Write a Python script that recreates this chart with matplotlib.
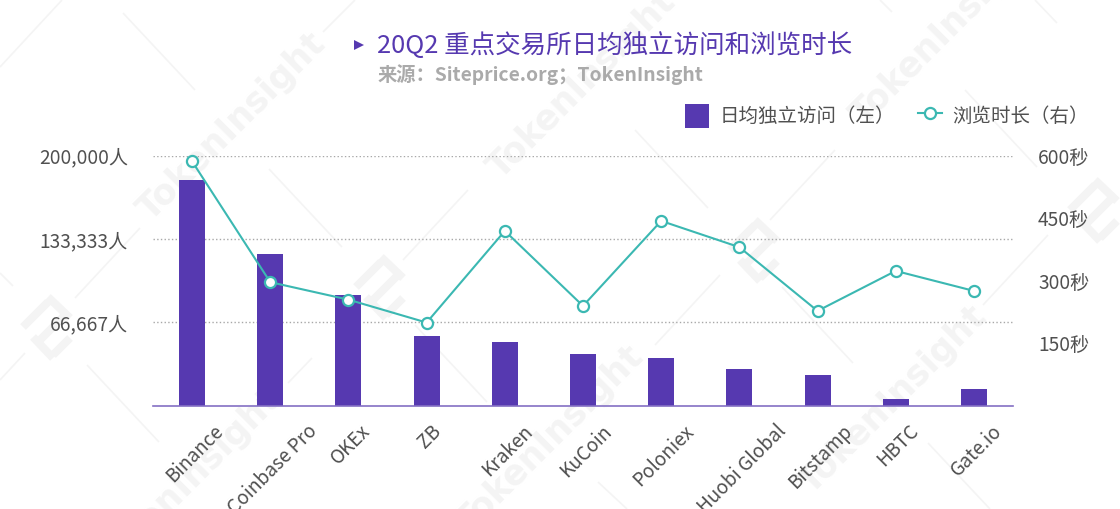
"""
20Q2 exchange traffic chart: daily unique visits (bars) and visit duration (line).
"""

import matplotlib

matplotlib.use("Agg")
import matplotlib.pyplot as plt
from matplotlib.lines import Line2D
from matplotlib.transforms import ScaledTranslation

W, H = 1120, 509

plt.rcParams["font.family"] = ["Noto Sans CJK SC", "DejaVu Sans"]

exchanges = ["Binance", "Coinbase Pro", "OKEx", "ZB", "Kraken", "KuCoin",
             "Poloniex", "Huobi Global", "Bitstamp", "HBTC", "Gate.io"]
visits = [180400, 121200, 88400, 55600, 50800, 41200, 38000, 29200, 24400, 5200, 13200]
duration = [586, 296, 254, 199, 419, 239, 443, 380, 227, 323, 275]

visit_ticks = [66667, 133333, 200000]
duration_ticks = [150, 300, 450, 600]

PURPLE = "#5639b0"
TEAL = "#3bb8b2"
TEXT = "#505050"
MARK = "#f4f4f4"


def fx(x):
    return x / W


def fy(y):
    return 1 - y / H


def stroke(fig, x0, y0, x1, y1, lw):
    fig.add_artist(Line2D([fx(x0), fx(x1)], [fy(y0), fy(y1)], color=MARK, lw=lw,
                          solid_capstyle="butt", zorder=-2))


def watermark(fig):
    # pale TokenInsight text, thin diagonals and logos behind the chart
    for x, y in [(232, 127), (582, 85), (945, 32), (187, 483), (550, 440), (893, 400)]:
        fig.text(fx(x), fy(y), "TokenInsight", rotation=45, ha="center", va="center",
                 fontsize=25, fontweight="bold", color=MARK, zorder=-2,
                 family=["DejaVu Sans"], clip_on=True)
    lines = [(62, 0, 0, 67), (123, 13, 195, 90), (355, 0, 323, 32), (140, 228, 75, 298),
             (0, 273, 13, 286), (25, 353, 0, 380), (87, 365, 159, 442), (269, 169, 342, 247),
             (312, 358, 288, 383), (468, 190, 403, 260), (415, 325, 487, 402),
             (635, 130, 708, 208), (835, 150, 770, 220), (720, 275, 655, 345),
             (782, 287, 853, 363), (965, 90, 1037, 167), (1048, 235, 983, 305),
             (880, 0, 892, 12), (1035, 0, 1057, 23), (598, 482, 627, 509), (928, 443, 990, 509)]
    for x0, y0, x1, y1 in lines:
        stroke(fig, x0, y0, x1, y1, 1.2)
    logo = [(-22, 2, 3, -23), (3, -28, 25, -7), (-5, 15, 20, -10), (-12, 12, 8, 33), (8, 30, 25, 13)]
    for cx, cy in [(45, 325), (378, 285), (752, 248), (1092, 208)]:
        for x0, y0, x1, y1 in logo:
            stroke(fig, cx + x0, cy + y0, cx + x1, cy + y1, 5.8)


fig = plt.figure(figsize=(W / 100, H / 100), dpi=100)
watermark(fig)

ax = fig.add_axes([fx(153), fy(405.5), 860 / W, 250 / H])
ax.patch.set_alpha(0)
xs = list(range(len(exchanges)))
bars = ax.bar(xs, visits, width=0.333, color=PURPLE, zorder=3, label="日均独立访问（左）")
ax.set_xlim(-0.5, len(exchanges) - 0.5)
ax.set_ylim(0, 200000)
ax.set_xticks(xs)
ax.set_xticklabels(exchanges, rotation=45, ha="center", va="top")
ax.set_yticks(visit_ticks)
ax.set_yticklabels([f"{v:,}人" for v in visit_ticks])
ax.tick_params(axis="x", length=0, pad=11, labelsize=13.7, labelcolor=TEXT)
ax.tick_params(axis="y", length=0, pad=18, labelsize=13.8, labelcolor=TEXT)
# nudge the slanted labels to the right
shift = ScaledTranslation(2.5 / 100, 0, fig.dpi_scale_trans)
for lab in ax.get_xticklabels():
    lab.set_transform(lab.get_transform() + shift)
ax.grid(True, axis="y", color="#a8a8a8", linestyle=":", linewidth=1, zorder=1)
for s in ["top", "left", "right"]:
    ax.spines[s].set_visible(False)
ax.spines["bottom"].set_color("#8470c4")
ax.spines["bottom"].set_linewidth(1.2)
ax.spines["bottom"].set_zorder(4)

ax2 = ax.twinx()
line, = ax2.plot(xs, duration, color=TEAL, linewidth=1.5, marker="o", markersize=8,
                 markerfacecolor="white", markeredgecolor=TEAL, markeredgewidth=1.6,
                 clip_on=False, zorder=5, label="浏览时长（右）")
ax2.set_ylim(0, 600)
ax2.set_yticks(duration_ticks)
ax2.set_yticklabels([f"{v}秒" for v in duration_ticks])
ax2.tick_params(axis="y", length=0, pad=18, labelsize=13.8, labelcolor=TEXT)
for s in ax2.spines.values():
    s.set_visible(False)

# title block
fig.add_artist(Line2D([fx(359)], [fy(45)], marker=">", ms=7, color=PURPLE, mew=0))
fig.text(fx(377), fy(46), "20Q2 重点交易所日均独立访问和浏览时长", ha="left", va="center",
         fontsize=18.4, color=PURPLE)
fig.text(fx(378), fy(75), "来源：Siteprice.org；TokenInsight", ha="left", va="center",
         fontsize=13.9, fontweight="bold", color="#aaaaaa")

fig.legend(handles=[bars, line], loc="center right", bbox_to_anchor=(fx(1089), fy(116)),
           ncol=2, frameon=False, fontsize=14, labelcolor=TEXT, handlelength=1.24,
           handleheight=1.6, handletextpad=0.55, columnspacing=1.14, borderpad=0, borderaxespad=0)

fig.savefig("out.png", dpi=100)
plt.close(fig)
